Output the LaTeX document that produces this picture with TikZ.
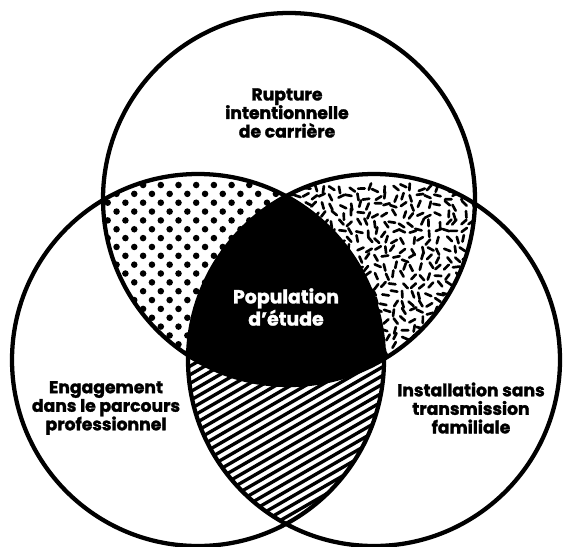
\documentclass[tikz,border=0pt]{standalone}
\usepackage{fontspec}
\setmainfont{Poppins}[BoldFeatures={FakeBold=1.6}]
\begin{document}
\begin{tikzpicture}[x=0.75pt,y=-0.75pt,
  ring/.style={draw=black,line width=3.2pt},
  lbl/.style={align=center,inner sep=0pt,font=\bfseries\fontsize{12.9}{13.9}\selectfont},
  poplbl/.style={align=center,inner sep=0pt,text=white,font=\bfseries\fontsize{14.2}{14.8}\selectfont},
  dotfill/.style={fill=black},
  grain/.style={draw=black,line width=2pt,line cap=round},
  hatch/.style={draw=black,line width=2.5pt}]
\useasboundingbox[fill=white] (0,0) rectangle (566,546);
\def\rad{139.5pt}
\coordinate (ct) at (289,199);
\coordinate (cl) at (198,360);
\coordinate (cr) at (374,360);

% dotted lens: top and left circles
\begin{scope}
  \clip (ct) circle[radius=\rad];
  \clip (cl) circle[radius=\rad];
  \foreach \k in {0,...,26}{
    \foreach \m in {0,...,13}{
      \fill[dotfill] ({90+\m*17.7+mod(\k,2)*8.85},{185+\k*8.85}) circle[radius=2.45pt];
    }
  }
\end{scope}

% grained lens: top and right circles
\begin{scope}
  \clip (ct) circle[radius=\rad];
  \clip (cr) circle[radius=\rad];
  \pgfmathsetseed{7}
  \foreach \i in {0,...,23}{
    \foreach \j in {0,...,21}{
      \pgfmathsetmacro\px{280+\i*8.8+rand*2.5}
      \pgfmathsetmacro\py{188+\j*8.8+rand*2.5}
      \pgfmathsetmacro\pa{rnd*180}
      \draw[grain] (\px,\py) ++(\pa:3.3) -- ++(\pa+180:6.6);
    }
  }
\end{scope}

% hatched lens: left and right circles
\begin{scope}
  \clip (cl) circle[radius=\rad];
  \clip (cr) circle[radius=\rad];
  \foreach \s in {0,...,75}{
    \draw[hatch] (150,{200+\s*8.6}) -- ++(340,-196);
  }
\end{scope}

% common core of the three sets
\begin{scope}
  \clip (ct) circle[radius=\rad];
  \clip (cl) circle[radius=\rad];
  \fill[black] (cr) circle[radius=\rad];
\end{scope}

\draw[ring] (ct) circle[radius=\rad];
\draw[ring] (cl) circle[radius=\rad];
\draw[ring] (cr) circle[radius=\rad];

\node[lbl] (rupture) at (287,113) {Rupture\\intentionnelle\\de carrière};
\node[poplbl] (population) at (286,307) {Population\\d'étude};
\node[lbl] (engagement) at (106,408) {Engagement\\dans le parcours\\professionnel};
\node[lbl] (installation) at (471,408) {Installation sans\\transmission\\familiale};
\end{tikzpicture}
\end{document}
